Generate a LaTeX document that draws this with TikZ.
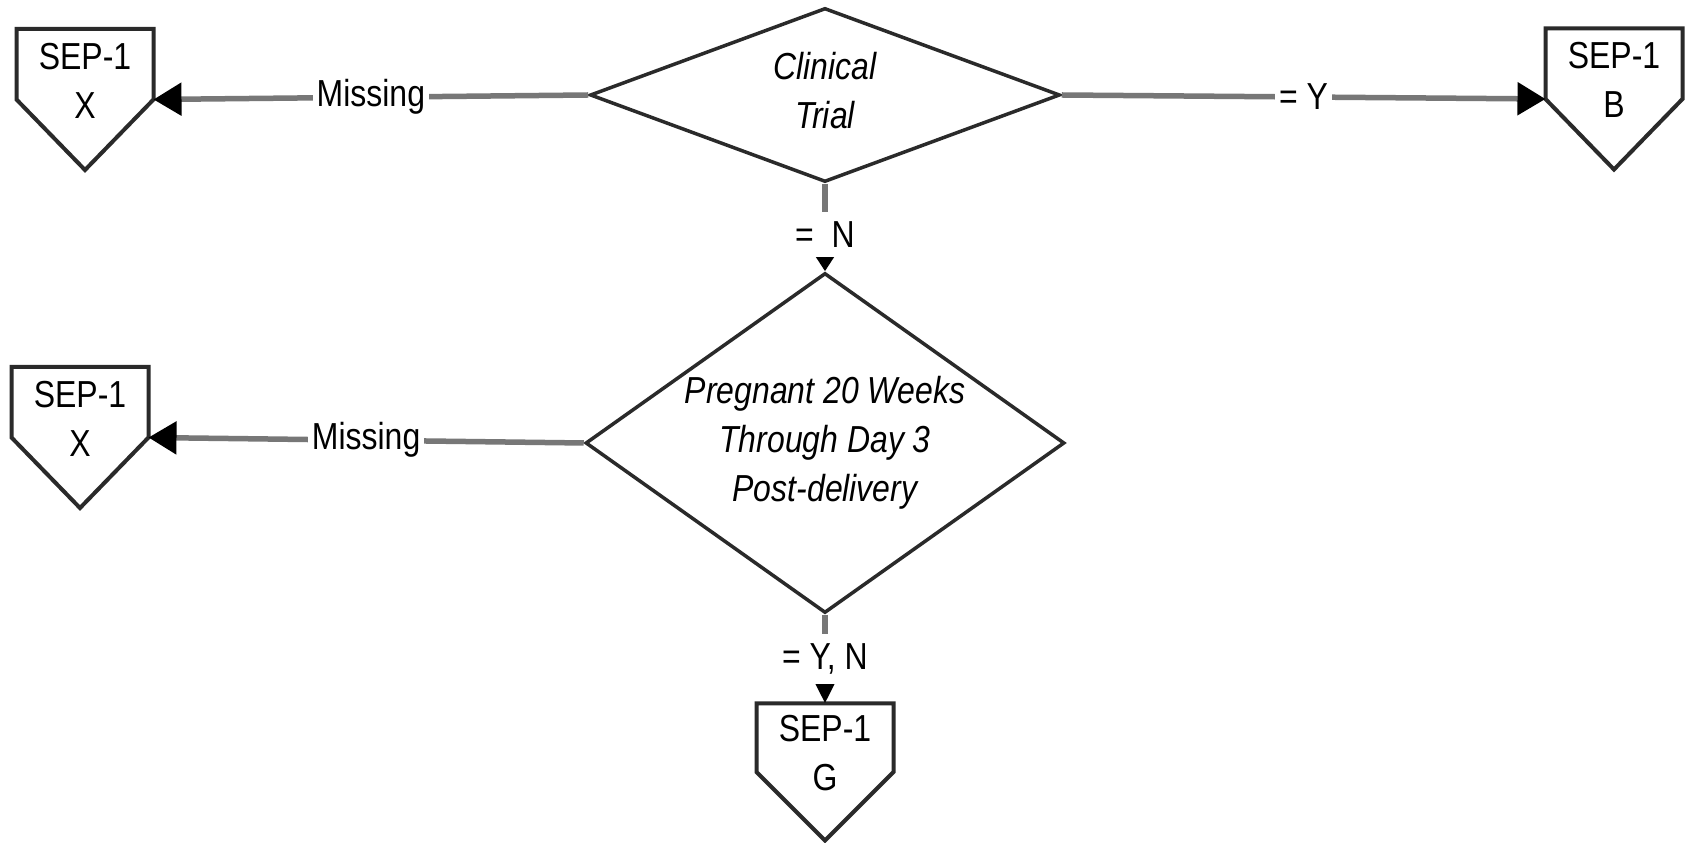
\documentclass[tikz,border=0pt]{standalone}
\usepackage{fontspec}
\setmainfont{Liberation Sans}[FakeStretch=0.85]
\usetikzlibrary{shapes.geometric,arrows.meta}
\definecolor{conncol}{HTML}{777777}
\definecolor{shapeln}{HTML}{2A2A2A}
\begin{document}
\begin{tikzpicture}[x=0.1mm,y=-0.1mm,
  txt/.style={font=\fontsize{10.7pt}{14pt}\selectfont},
  dec/.style={diamond, draw=shapeln, line width=0.35mm, inner sep=-1mm, align=center,
    font=\fontsize{10.7pt}{14pt}\selectfont\itshape},
  offpage/.style={rectangle, inner sep=0pt, outer sep=0pt, minimum width=13.7mm,
    minimum height=14.1mm, align=center, text depth=3.8mm, txt},
  pentline/.style={draw=shapeln, line width=0.4mm, line join=miter},
  conn/.style={draw=conncol, line width=0.55mm},
  bigtip/.style={-{Triangle[length=2.8mm,width=3.2mm,color=black]}},
  lbl/.style={fill=white, inner xsep=0.4mm, inner ysep=1mm, txt},
]
\fill[white] (0,0) rectangle (1689,843);
\useasboundingbox (0,0) rectangle (1689,843);

% decisions
\node[dec, aspect=2.7, minimum width=47mm, minimum height=17.4mm, text depth=1mm] (d1) at (825,95) {Clinical\\Trial};
\node[dec, aspect=1.41, minimum width=47.9mm, minimum height=34mm] (d2) at (825,443) {Pregnant 20 Weeks\\Through Day 3\\Post-delivery};

% off-page connectors
\node[offpage] (x1) at (85,99.5) {SEP-1\\X};
\node[offpage] (b1) at (1614,99) {SEP-1\\B};
\node[offpage] (x2) at (80,437.5) {SEP-1\\X};
\node[offpage, minimum height=13.7mm] (g1) at (825,772) {SEP-1\\G};

\foreach \n in {x1,b1,x2,g1}{
  \draw[pentline] (\n.north west) -- (\n.north east) -- (\n.east) -- (\n.south) -- (\n.west) -- cycle;
}

% connectors
\draw[conn, bigtip] (d1.west) -- node[lbl]{Missing} (x1.east);
\draw[conn, bigtip] (d1.east) -- node[lbl]{= Y} (b1.west);
\draw[conn, -{Triangle[length=1.4mm,width=1.7mm,color=black]}] (d1.south) -- node[lbl,pos=0.58]{= \ N} (d2.north);
\draw[conn, bigtip] (d2.west) -- node[lbl]{Missing} (x2.east);
\draw[conn, -{Triangle[length=2mm,width=1.8mm,color=black]}] (d2.south) -- node[lbl,pos=0.5]{= Y, N} (g1.north);
\end{tikzpicture}
\end{document}
